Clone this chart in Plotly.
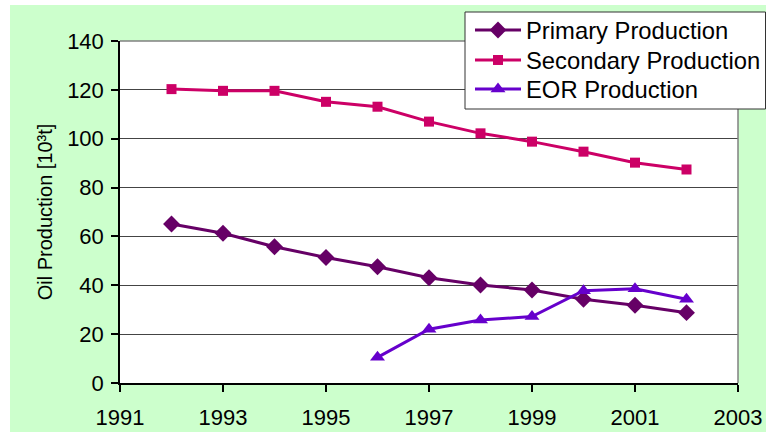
import plotly.graph_objects as go

years = [1992, 1993, 1994, 1995, 1996, 1997, 1998, 1999, 2000, 2001, 2002]
primary = [65.1, 61.3, 55.8, 51.4, 47.6, 43.1, 40.1, 38.1, 34.3, 31.8, 28.8]
secondary = [120.3, 119.6, 119.6, 115.1, 113.1, 107.0, 102.2, 98.8, 94.7, 90.2, 87.4]
eor_years = [1996, 1997, 1998, 1999, 2000, 2001, 2002]
eor = [10.5, 22.0, 25.8, 27.2, 37.8, 38.6, 34.3]

x_ticks = [1991, 1993, 1995, 1997, 1999, 2001, 2003]
y_ticks = [0, 20, 40, 60, 80, 100, 120, 140]

FONT = "Liberation Sans, Arial, sans-serif"
C_PRI = "#660066"
C_SEC = "#CC0066"
C_EOR = "#6600CC"
GREEN = "#CCFFCC"

# plot area in pixels: x 120..738, y 41..383
def px(x):
    return (x - 120) / 618

def py(y):
    return (383 - y) / 342

fig = go.Figure()
fig.add_trace(go.Scatter(x=years, y=primary, name="Primary Production", mode="lines+markers",
                         line=dict(color=C_PRI, width=3), legend="legend",
                         marker=dict(symbol="diamond", size=13, color=C_PRI)))
fig.add_trace(go.Scatter(x=years, y=secondary, name="Secondary Production", mode="lines+markers",
                         line=dict(color=C_SEC, width=3), legend="legend2",
                         marker=dict(symbol="square", size=10, color=C_SEC)))
fig.add_trace(go.Scatter(x=eor_years, y=eor, name="EOR Production", mode="lines+markers",
                         line=dict(color=C_EOR, width=3), legend="legend3",
                         marker=dict(symbol="triangle-up", size=13, color=C_EOR)))

# green background panel (white strip at left and top)
fig.add_shape(type="rect", xref="paper", yref="paper",
              x0=px(10), x1=px(780), y0=py(440), y1=py(5),
              fillcolor=GREEN, line=dict(width=0), layer="below")
# white plot area
fig.add_shape(type="rect", xref="paper", yref="paper", x0=0, x1=1, y0=0, y1=1,
              fillcolor="white", line=dict(width=0), layer="below")
# gray top and right borders of plot area
fig.add_shape(type="line", xref="paper", yref="paper", x0=0, x1=1, y0=1, y1=1,
              line=dict(color="#808080", width=1.5), layer="above")
fig.add_shape(type="line", xref="paper", yref="paper", x0=1, x1=1, y0=0, y1=1,
              line=dict(color="#808080", width=1.5), layer="above")
# legend box
fig.add_shape(type="rect", xref="paper", yref="paper",
              x0=px(465), x1=px(765.5), y0=py(109), y1=py(12),
              fillcolor="white", line=dict(color="#333333", width=1), layer="above")

leg_common = dict(xanchor="left", yanchor="middle", bgcolor="rgba(0,0,0,0)", borderwidth=0,
                  font=dict(size=23.8, family=FONT, color="black"), itemwidth=46)

fig.update_layout(
    width=766, height=432,
    margin=dict(l=120, r=28, t=41, b=49, autoexpand=False),
    paper_bgcolor="white", plot_bgcolor="white",
    font=dict(family=FONT, color="black"),
    showlegend=True,
    legend=dict(x=px(470), y=py(30), **leg_common),
    legend2=dict(x=px(470), y=py(60), **leg_common),
    legend3=dict(x=px(470), y=py(89), **leg_common),
    xaxis=dict(range=[1991, 2003], tickvals=x_ticks, ticktext=[str(v) for v in x_ticks],
               showgrid=False, zeroline=False, showline=True, linecolor="black", linewidth=1.5,
               ticks="outside", ticklen=7, tickcolor="black", tickwidth=1.5,
               tickfont=dict(size=22, family=FONT, color="black"), ticklabelstandoff=7),
    yaxis=dict(range=[0, 140], tickvals=y_ticks, showgrid=True, gridcolor="#444444", gridwidth=1,
               zeroline=False, showline=True, linecolor="black", linewidth=1.5,
               ticks="outside", ticklen=7, tickcolor="black", tickwidth=1.5,
               tickfont=dict(size=22, family=FONT, color="black"), ticklabelstandoff=3,
               title=dict(text="Oil Production [10³t]", font=dict(size=20, family=FONT, color="black"),
                          standoff=9)),
)

fig.write_html("out.html", config={"displayModeBar": False},
               post_script="document.body.style.margin='0';")
